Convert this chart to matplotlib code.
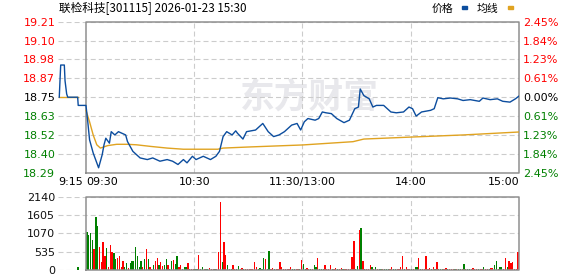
import matplotlib
matplotlib.use('Agg')
import matplotlib.pyplot as plt
from matplotlib.patches import Rectangle
import numpy as np

plt.rcParams['lines.scale_dashes'] = False
CJK = ['Noto Sans CJK SC', 'DejaVu Sans']

# ---------------- data ----------------
title = "联检科技[301115] 2026-01-23 15:30"
prev_close = 18.75
price_labels = ["18.29", "18.40", "18.52", "18.63", "18.75", "18.87", "18.98", "19.10", "19.21"]
pct_labels = ["2.45%", "1.84%", "1.23%", "0.61%", "0.00%", "0.61%", "1.23%", "1.84%", "2.45%"]
vol_labels = ["0", "535", "1070", "1605", "2140"]
x_labels = ["9:15", "09:30", "10:30", "11:30/13:00", "14:00", "15:00"]

# pre-market (minutes relative to 9:30)
pre_t = [-14.8, -14.4, -14.0, -12.0, -11.6, -10.7, -10.1, -4.6, -4.3]
pre_p = [18.75, 18.85, 18.946, 18.946, 18.85, 18.77, 18.75, 18.75, 18.70]
pre_avg_t = [-14.8, -4.6]
pre_avg_p = [18.75, 18.75]

# trading session (minutes after 9:30, lunch break removed)
price_t = [0, 1, 2, 4, 5, 7, 9, 10, 11, 13, 14, 16, 18, 20, 22, 23, 26, 30, 34, 37,
           41, 45, 48, 51, 54, 56, 59, 61, 65, 69, 72, 74, 76, 78, 81, 83, 84, 87, 89, 94,
           98, 101, 104, 107, 110, 114, 117, 119, 121, 123, 127, 129, 131, 133, 136, 139, 143, 146, 149, 151,
           152, 154, 157, 159, 161, 165, 169, 172, 176, 179, 181, 183, 186, 191, 193, 195, 198, 202, 206, 209,
           213, 218, 220, 224, 228, 231, 235, 238, 240]
price_p = [18.70, 18.60, 18.49, 18.41, 18.38, 18.32, 18.40, 18.46, 18.50, 18.47, 18.54, 18.52, 18.54, 18.53, 18.52, 18.48, 18.42, 18.38, 18.37, 18.38,
           18.36, 18.37, 18.36, 18.34, 18.37, 18.35, 18.39, 18.37, 18.39, 18.37, 18.39, 18.42, 18.51, 18.54, 18.52, 18.545, 18.53, 18.495, 18.54, 18.55,
           18.59, 18.54, 18.51, 18.52, 18.54, 18.58, 18.59, 18.55, 18.60, 18.62, 18.61, 18.62, 18.66, 18.655, 18.65, 18.62, 18.595, 18.61, 18.68, 18.69,
           18.80, 18.76, 18.74, 18.69, 18.70, 18.70, 18.66, 18.655, 18.66, 18.69, 18.68, 18.635, 18.66, 18.67, 18.68, 18.747, 18.74, 18.745, 18.74, 18.73,
           18.735, 18.725, 18.745, 18.735, 18.74, 18.725, 18.72, 18.74, 18.757]
avg_t = [0, 2, 4, 6, 8, 12, 17, 23, 28, 36, 45, 54, 73, 76, 91, 120, 148, 154, 180, 209, 240]
avg_p = [18.67, 18.60, 18.52, 18.46, 18.44, 18.455, 18.463, 18.463, 18.46, 18.45, 18.44, 18.433,
         18.433, 18.44, 18.447, 18.459, 18.479, 18.495, 18.507, 18.52, 18.538]

# volume per minute (R = up, G = down)
volumes = [1110, 1030, 1090, 866, 603, 1547, 1284, 671, 233, 817,
           409, 642, 88, 740, 525, 496, 331, 350, 409, 88,
           253, 88, 204, 58, 204, 253, 272, 671, 409, 97,
           272, 88, 331, 623, 311, 97, 39, 156, 253, 350,
           136, 233, 117, 156, 331, 156, 39, 263, 292, 185,
           409, 88, 156, 39, 88, 88, 214, 29, 29, 29,
           29, 29, 447, 29, 88, 29, 29, 29, 58, 29,
           29, 29, 29, 525, 1985, 233, 817, 447, 146,
           29, 29, 136, 29, 29, 107, 29, 58, 29, 29,
           29, 29, 29, 29, 233, 88, 29, 58, 29, 350,
           331, 29, 545, 29, 58, 29, 29, 29, 233, 88,
           29, 29, 29, 29, 88, 29, 29, 29, 29, 29, 282,
           175, 29, 58, 29, 29, 29, 136, 88, 350, 29,
           29, 29, 146, 29, 29, 146, 29, 29, 58, 29,
           29, 58, 29, 29, 29, 29, 29, 380, 847, 29,
           117, 1158, 1226, 263, 29, 29, 29, 146, 88,
           29, 78, 29, 29, 29, 29, 29, 29, 29, 29,
           78, 29, 29, 29, 29, 78, 400, 29, 78, 29,
           29, 29, 29, 78, 78, 340, 29, 29, 29, 400,
           29, 49, 29, 78, 29, 224, 29, 29, 29, 29,
           49, 29, 29, 29, 29, 29, 29, 29, 29, 29, 165,
           29, 29, 29, 29, 49, 29, 29, 29, 29, 29,
           78, 29, 29, 29, 49, 49, 136, 253, 29, 78,
           78, 29, 340, 78, 253, 195, 224, 29, 29, 516]
vol_dir = ("GGGGRGGRRR" "RGRRRGGRRR" "RGGRGGGGGG" "GRGRGRRGRR" "GRRGGRGGRG"
           "GRRGGGRGRR" "GGRGGRGGRR" "RGRRRGRRG"
           "RGRRGGRRGR" "RRRRRRGGGG" "RGGRRGRRRR" "RRRRRGGRRGR" "GGRRGRGGRG"
           "GGRRRRGRRG" "RRGRRRRRRG" "GRGRGRRRG"
           "RGRGGRGGGR" "RGGRRRRGRR" "RGRGGRGRRR" "RRGRGRGGGR" "RGRRRGRGGRG"
           "RGGRRRRGRR" "GRRGRRGGRG" "GRRGRRRRRR")
pre_vol_t = [-4.4]
pre_vol = [78]

# ---------------- style ----------------
W, H = 578, 276
BLUE = '#0c4d9e'
ORANGE = '#e0a321'
RED = '#ff0000'
GREEN = '#008000'
GRID = '#cccccc'
BOX = '#8f8f8f'
DASH = (0, (3.6, 2.2))

fig = plt.figure(figsize=(W / 100, H / 100), dpi=100)
fig.patch.set_facecolor('white')

TOP, BOT = 21.7, 172.7
ax = fig.add_axes([58 / W, 1 - BOT / H, 461 / W, (BOT - TOP) / H])
vx = fig.add_axes([58 / W, 1 - 270 / H, 461 / W, (270 - 196.7) / H])
XMIN, XMAX = -15.5, 240
for a in (ax, vx):
    a.set_xlim(XMIN, XMAX)
    a.set_facecolor('none')
    for s in a.spines.values():
        s.set_visible(False)

# ---------- price panel ----------
ymin, ymax = 18.29, 19.21
ax.set_ylim(ymin, ymax)
levels = np.linspace(ymin, ymax, len(price_labels))
for lv in levels:
    ax.plot([XMIN, XMAX], [lv, lv], color=GRID, lw=0.8, ls=DASH, zorder=1)
for t in (60, 120, 180):
    ax.plot([t, t], [ymin, ymax], color=GRID, lw=0.8, ls=DASH, zorder=1)
ax.plot([0, 240, 240, 0, 0], [ymin, ymin, ymax, ymax, ymin], color=BOX, lw=1.1,
        zorder=2, clip_on=False)

ax.text(123.6, 18.754, '东方财富', ha='center', va='center', fontsize=25,
        color='#e8e8ec', fontweight='bold', family=CJK, zorder=0)

ax.plot(pre_avg_t, pre_avg_p, color=ORANGE, lw=1.0, zorder=3)
ax.plot(avg_t, avg_p, color=ORANGE, lw=1.0, zorder=3)
ax.plot(pre_t + price_t, pre_p + price_p, color=BLUE, lw=1.0, zorder=4)

ax.set_yticks(levels)
ax.set_yticklabels(price_labels)
ax.tick_params(axis='y', length=0, pad=2, labelsize=8)
mid = len(levels) // 2
for i, lab in enumerate(ax.get_yticklabels()):
    lab.set_color(RED if i > mid else ('black' if i == mid else GREEN))

ax2 = ax.twinx()
ax2.set_ylim(ymin, ymax)
for s in ax2.spines.values():
    s.set_visible(False)
ax2.set_yticks(levels)
ax2.set_yticklabels(pct_labels)
ax2.tick_params(axis='y', length=0, pad=3, labelsize=8)
for i, lab in enumerate(ax2.get_yticklabels()):
    lab.set_color(RED if i > mid else ('black' if i == mid else GREEN))

ax.set_xticks([XMIN, 0, 60, 120, 180, 240])
ax.set_xticklabels(x_labels)
ax.tick_params(axis='x', length=0, pad=3, labelsize=8)
xl = ax.get_xticklabels()
xl[0].set_ha('left')
xl[1].set_ha('left')
xl[-1].set_ha('right')

# ---------- volume panel ----------
vmax = 2140
vx.set_ylim(0, vmax)
vlevels = np.linspace(0, vmax, len(vol_labels))
for lv in vlevels:
    vx.plot([XMIN, XMAX], [lv, lv], color=GRID, lw=0.8, ls=DASH, zorder=1)
for t in (60, 120, 180):
    vx.plot([t, t], [0, vmax], color=GRID, lw=0.8, ls=DASH, zorder=1)
vx.plot([0, 240, 240, 0, 0], [0, 0, vmax, vmax, 0], color=BOX, lw=1.1,
        zorder=5, clip_on=False)

vol_x = np.arange(len(volumes)) + 0.5
vcolors = [RED if c == 'R' else GREEN for c in vol_dir]
vx.bar(vol_x, volumes, width=0.7, color=vcolors, zorder=3, linewidth=0)
vx.bar(pre_vol_t, pre_vol, width=0.7, color=GREEN, zorder=3, linewidth=0)

vx.set_yticks(vlevels)
vx.set_yticklabels(vol_labels)
vx.tick_params(axis='y', length=0, pad=2, labelsize=8, labelcolor='#111111')
vx.set_xticks([])

# ---------- header ----------
fig.text(59 / W, 1 - 8.5 / H, title, ha='left', va='center', fontsize=8.4,
         family=CJK, color='black')
fig.text(432 / W, 1 - 8.5 / H, '价格', ha='left', va='center', fontsize=7.8,
         family=CJK, color='black')
fig.patches.append(Rectangle((462 / W, 1 - 8.5 / H), 5 / W, 2.5 / H,
                             transform=fig.transFigure, color=BLUE))
fig.text(477 / W, 1 - 8.5 / H, '均线', ha='left', va='center', fontsize=7.8,
         family=CJK, color='black')
fig.patches.append(Rectangle((508 / W, 1 - 8.5 / H), 5 / W, 2.5 / H,
                             transform=fig.transFigure, color=ORANGE))

fig.savefig('out.png', dpi=100)
